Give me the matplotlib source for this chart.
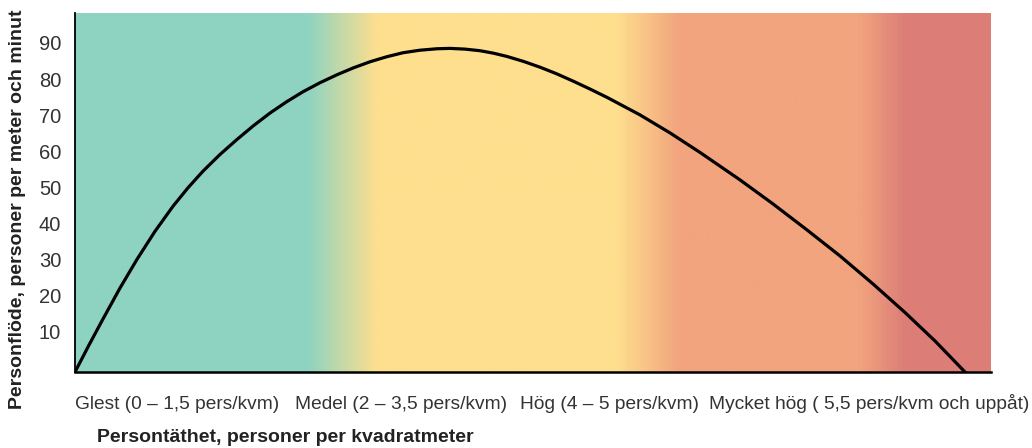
import numpy as np
import matplotlib
matplotlib.use("Agg")
import matplotlib.pyplot as plt
from matplotlib.colors import LinearSegmentedColormap
from matplotlib.transforms import ScaledTranslation

# Kurvan: x i procent av axelns bredd, y = personflöde
tathet = [0, 1.53, 3.06, 4.91, 6.77, 8.73, 10.70, 12.34, 13.97, 15.83,
          17.69, 19.49, 21.29, 23.09, 24.89, 26.75, 28.60, 30.40, 32.21,
          34.01, 35.81, 37.66, 39.52, 40.94, 42.58, 44.21, 45.69, 47.16,
          48.96, 50.76, 52.57, 54.37, 56.22, 58.08, 61.68, 64.96, 68.23,
          72.60, 76.20, 79.91, 83.52, 87.12, 90.61, 93.89, 97.16]
flode = [0, 7.48, 14.7, 23.24, 31.2, 38.94, 45.9, 51.02, 55.6, 60.23,
         64.4, 68.21, 71.7, 74.8, 77.6, 80.1, 82.3, 84.22, 85.9,
         87.27, 88.4, 89.1, 89.5, 89.6, 89.4, 88.96, 88.27, 87.37,
         86.0, 84.40, 82.58, 80.55, 78.35, 76.04, 71.19, 66.20, 60.80,
         53.19, 46.54, 39.34, 32.13, 24.38, 16.48, 8.59, 0]

# Bakgrundens färgzoner (läge i procent, färg)
zon_lagen = [0, 25.3, 33.0, 59.2, 66.0, 85.7, 90.8, 100]
zon_farger = ["#8ed3c1", "#8ed3c1", "#fedf8e", "#fedf8e",
              "#f2a47e", "#f2a47e", "#dc7e77", "#dc7e77"]

kategori_lagen = [0, 24.0, 48.6, 69.2]
kategorier = ["Glest (0 – 1,5 pers/kvm)", "Medel (2 – 3,5 pers/kvm)",
              "Hög (4 – 5 pers/kvm)", "Mycket hög ( 5,5 pers/kvm och uppåt)"]
yticks = [10, 20, 30, 40, 50, 60, 70, 80, 90]

plt.rcParams['font.family'] = ['Liberation Sans', 'DejaVu Sans']

fig = plt.figure(figsize=(10.32, 4.48), dpi=100)
ax = fig.add_axes([75/1032, 76/448, 916/1032, 359/448])

xmax, ymax = 100, 99.4
cmap = LinearSegmentedColormap.from_list(
    "zoner", [(p/100, c) for p, c in zip(zon_lagen, zon_farger)])
grad = np.linspace(0, 1, 1000).reshape(1, -1)
ax.imshow(grad, cmap=cmap, extent=[0, xmax, 0, ymax], aspect='auto',
          interpolation='bilinear', zorder=0)

ax.plot(tathet, flode, color='black', lw=2.3, solid_joinstyle='round', zorder=3)

ax.set_xlim(0, xmax)
ax.set_ylim(0, ymax)
for s in ['top', 'right']:
    ax.spines[s].set_visible(False)
ax.spines['left'].set_linewidth(1.3)
ax.spines['bottom'].set_linewidth(1.8)
ax.spines['left'].set_zorder(4)
ax.spines['bottom'].set_zorder(4)

ax.set_yticks(yticks)
ax.set_yticklabels([str(v) for v in yticks], fontsize=14.5, color='#333333')
ax.tick_params(axis='y', length=0, pad=10)
for lab in ax.get_yticklabels():
    lab.set_transform(lab.get_transform() + ScaledTranslation(0, 4/100, fig.dpi_scale_trans))

ax.set_xticks(kategori_lagen)
ax.set_xticklabels(kategorier, fontsize=13.8, color='#333333', ha='left',
                   va='baseline')
ax.tick_params(axis='x', length=0, pad=26.5)

fig.text(97/1032, 1 - 437/448, "Persontäthet, personer per kvadratmeter",
         fontsize=14, fontweight='bold', color='#222222', ha='left', va='center')
fig.text(18/1032, 1 - 209/448, "Personflöde, personer per meter och minut",
         fontsize=14, fontweight='bold', color='#222222', ha='center', va='center',
         rotation=90)

fig.savefig("out.png", dpi=100)
